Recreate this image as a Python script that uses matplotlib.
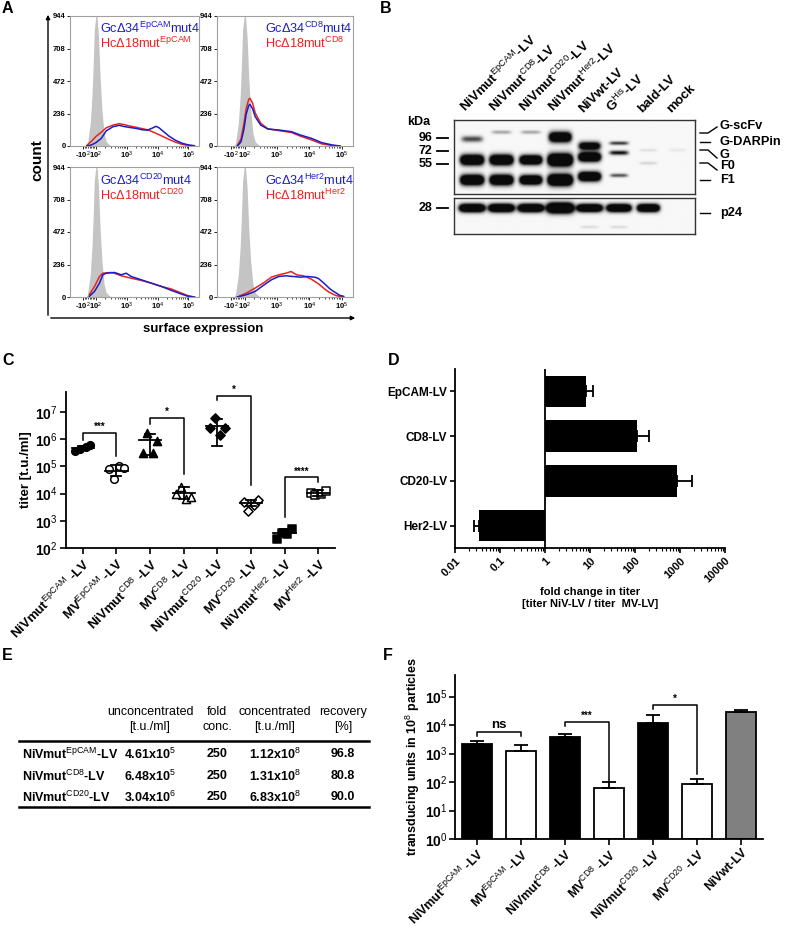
import matplotlib
matplotlib.use('Agg')
import matplotlib.pyplot as plt
import matplotlib.transforms as mtransforms
from matplotlib.lines import Line2D
from matplotlib.patches import FancyArrowPatch
from matplotlib.ticker import FixedLocator, NullLocator, NullFormatter, LogLocator
import numpy as np

plt.rcParams['font.family'] = ['Liberation Sans', 'DejaVu Sans']
plt.rcParams['mathtext.fontset'] = 'custom'
plt.rcParams['mathtext.rm'] = 'Liberation Sans'
plt.rcParams['mathtext.it'] = 'Liberation Sans:italic'
plt.rcParams['mathtext.bf'] = 'Liberation Sans:bold'

W, H = 787, 927

# ---------------- A: flow histograms (x = position on biexponential axis, decades)
gray_x = [1.67, 1.72, 1.81, 1.87, 1.91, 1.94, 1.99, 2.03, 2.08, 2.13, 2.19, 2.26, 2.33, 2.44, 2.56]
gray_count = [0, 19, 165, 382, 624, 842, 944, 944, 790, 500, 260, 92, 31, 7, 0]

epcam_x = [1.70, 1.85, 2.0, 2.17, 2.33, 2.55, 2.75, 2.9, 3.08, 3.3, 3.5, 3.67, 3.83, 3.95,
           4.05, 4.21, 4.37, 4.58, 4.8, 5.0, 5.2]
epcam_gc = [0, 8, 25, 56, 110, 140, 150, 142, 135, 128, 118, 115, 130, 143, 132, 102, 72, 42, 20, 8, 2]
epcam_hc = [5, 35, 70, 100, 132, 152, 162, 156, 146, 136, 126, 118, 104, 92, 82, 65, 48, 28, 12, 4, 1]

cd8_x = [1.78, 1.89, 1.98, 2.05, 2.13, 2.17, 2.25, 2.33, 2.5, 2.72, 3.06, 3.45, 3.72, 4.06, 4.39, 4.72, 4.95]
cd8_gc = [0, 30, 120, 230, 295, 302, 270, 213, 152, 123, 116, 104, 80, 56, 24, 7, 0]
cd8_hc = [5, 50, 160, 270, 340, 346, 310, 240, 165, 125, 112, 98, 72, 45, 15, 3, 0]

cd20_x = [1.78, 1.95, 2.11, 2.22, 2.33, 2.49, 2.6, 2.82, 2.98, 3.14, 3.47, 3.79, 4.12, 4.45, 4.77, 4.99, 5.2]
cd20_gc = [5, 41, 101, 161, 173, 176, 178, 161, 173, 149, 125, 101, 77, 48, 22, 5, 0]
cd20_hc = [17, 77, 149, 173, 175, 178, 172, 154, 145, 137, 120, 101, 77, 58, 29, 10, 0]

her2_x = [1.78, 2.06, 2.33, 2.61, 2.83, 3.06, 3.28, 3.44, 3.61, 3.72, 3.83, 3.94, 4.06, 4.17,
          4.28, 4.39, 4.5, 4.61, 4.72, 4.83, 4.94, 5.06]
her2_gc = [0, 17, 41, 89, 125, 149, 154, 150, 147, 144, 146, 149, 146, 144, 135, 113, 90, 65, 45, 29, 12, 5]
her2_hc = [0, 29, 65, 106, 144, 161, 173, 185, 161, 157, 154, 142, 130, 113, 96, 75, 53, 35, 22, 10, 5, 1]

hist_tick_pos = [1.58, 2, 3, 4, 5]
hist_tick_labels = ['-10$^{2}$', '10$^{2}$', '10$^{3}$', '10$^{4}$', '10$^{5}$']
count_ticks = [0, 236, 472, 708, 944]

# ---------------- B: western blot bands
blot_lanes = ['NiVmut$^{\\mathrm{EpCAM}}$-LV', 'NiVmut$^{\\mathrm{CD8}}$-LV', 'NiVmut$^{\\mathrm{CD20}}$-LV',
              'NiVmut$^{\\mathrm{Her2}}$-LV', 'NiVwt-LV', 'G$^{\\mathrm{His}}$-LV', 'bald-LV', 'mock']
band_lane = [1, 1, 1, 2, 2, 2, 3, 3, 3, 4, 4, 4, 5, 5, 5, 6, 6, 6, 7, 7, 8]
band_kda = [94, 60, 39, 109, 60, 39, 109, 60, 39, 98, 60, 39, 81, 64, 42, 86, 70, 43, 74, 56, 74]
band_strength = [0.75, 2.2, 2.2, 0.35, 2.2, 2.2, 0.35, 2.2, 2.2, 2.0, 2.5, 2.5, 1.6, 2.2, 2.2,
                 0.8, 1.0, 0.7, 0.1, 0.15, 0.07]
band_halfwidth = [0.36, 0.40, 0.40, 0.33, 0.40, 0.40, 0.33, 0.38, 0.38, 0.38, 0.42, 0.42, 0.37, 0.38, 0.38,
                  0.32, 0.32, 0.30, 0.30, 0.30, 0.30]
band_thick = [3.0, 5.0, 5.0, 1.8, 5.0, 5.0, 1.8, 4.5, 4.5, 5.0, 6.0, 5.5, 4.0, 4.5, 4.5,
              1.8, 2.2, 1.8, 1.5, 1.5, 1.5]
p24_lane = [1, 2, 3, 4, 5, 6, 7, 5, 6]
p24_kda = [28, 28, 28, 28, 28, 28, 28, 18.6, 18.6]
p24_strength = [2.2, 2.2, 2.2, 2.5, 2.2, 2.2, 2.2, 0.12, 0.12]
p24_halfwidth = [0.44, 0.44, 0.44, 0.46, 0.44, 0.42, 0.38, 0.3, 0.3]
p24_thick = [4.0, 4.0, 4.0, 5.0, 3.8, 3.8, 3.8, 1.5, 1.5]
marker_kda = [96, 72, 55]
p24_marker = [28]

# ---------------- C: titers
titer_labels = ['NiVmut$^{\\mathrm{EpCAM}}$ -LV', 'MV$^{\\mathrm{EpCAM}}$ -LV', 'NiVmut$^{\\mathrm{CD8}}$ -LV',
                'MV$^{\\mathrm{CD8}}$ -LV', 'NiVmut$^{\\mathrm{CD20}}$ -LV', 'MV$^{\\mathrm{CD20}}$ -LV',
                'NiVmut$^{\\mathrm{Her2}}$ -LV', 'MV$^{\\mathrm{Her2}}$ -LV']
titer_points = [[3.8e5, 4.3e5, 5.0e5, 6.0e5],
                [8.0e4, 3.5e4, 1.0e5, 8.6e4],
                [3.2e5, 1.7e6, 3.0e5, 9.0e5],
                [1.0e4, 1.8e4, 6.5e3, 7.5e3],
                [2.7e6, 6.2e6, 1.4e6, 2.6e6],
                [5.1e3, 2.3e3, 3.8e3, 6.0e3],
                [2.2e2, 3.6e2, 3.3e2, 5.1e2],
                [1.1e4, 8.6e3, 9.8e3, 1.2e4]]
titer_mean = [4.7e5, 6.7e4, 9.6e5, 1.05e4, 3.0e6, 4.5e3, 3.6e2, 1.05e4]
titer_sd_low = [3.9e5, 4.4e4, 2.75e5, 6.2e3, 5.9e5, 3.4e3, 2.7e2, 8.3e3]
titer_sd_high = [5.9e5, 1.1e5, 1.6e6, 1.74e4, 5.6e6, 5.9e3, 4.8e2, 1.32e4]
titer_markers = ['o', 'o', '^', '^', 'D', 'D', 's', 's']
titer_msize = [30, 30, 34, 34, 22, 22, 26, 26]
titer_filled = [True, False, True, False, True, False, True, False]
# bracket: left group, right group, top, left end, right end (log10), label
titer_brackets = [(0, 1, 6.23, 5.98, 5.40, '***'), (2, 3, 6.78, 6.57, 4.73, '*'),
                  (4, 5, 7.61, 7.45, 4.30, '*'), (6, 7, 4.60, 3.13, 4.42, '****')]

# ---------------- D: fold change
fold_labels = ['EpCAM-LV', 'CD8-LV', 'CD20-LV', 'Her2-LV']
fold_change = [8.0, 109, 845, 0.034]
fold_err_end = [11.8, 208, 1870, 0.026]

# ---------------- E: concentration table
table_header = [('unconcentrated', '[t.u./ml]'), ('fold', 'conc.'), ('concentrated', '[t.u./ml]'),
                ('recovery', '[%]')]
table_rows = ['NiVmut$^{\\mathrm{EpCAM}}$-LV', 'NiVmut$^{\\mathrm{CD8}}$-LV', 'NiVmut$^{\\mathrm{CD20}}$-LV']
table_unconc = ['4.61x10$^{5}$', '6.48x10$^{5}$', '3.04x10$^{6}$']
table_fold = ['250', '250', '250']
table_conc = ['1.12x10$^{8}$', '1.31x10$^{8}$', '6.83x10$^{8}$']
table_recovery = ['96.8', '80.8', '90.0']

# ---------------- F: transducing units per 10^8 particles
tu_labels = ['NiVmut$^{\\mathrm{EpCAM}}$ -LV', 'MV$^{\\mathrm{EpCAM}}$ -LV', 'NiVmut$^{\\mathrm{CD8}}$ -LV',
             'MV$^{\\mathrm{CD8}}$ -LV', 'NiVmut$^{\\mathrm{CD20}}$ -LV', 'MV$^{\\mathrm{CD20}}$ -LV', 'NiVwt-LV']
tu_values = [2200, 1240, 3800, 63, 12000, 83, 29000]
tu_err_top = [2700, 2040, 4900, 100, 22000, 123, 35000]
tu_colors = ['black', 'white', 'black', 'white', 'black', 'white', '#808080']
tu_brackets = [(0, 1, 3.77, 3.62, 3.62, 'ns'), (2, 3, 4.12, 3.96, 2.04, '***'),
               (4, 5, 4.72, 4.55, 2.27, '*')]


fig = plt.figure(figsize=(W / 100, H / 100), dpi=100)


def box(x0, y0, x1, y1):
    return [x0 / W, 1 - y1 / H, (x1 - x0) / W, (y1 - y0) / H]


def ftext(x, y, s, **kw):
    return fig.text(x / W, 1 - y / H, s, **kw)


def fline(xs, ys, lw=1.0):
    fig.add_artist(Line2D([x / W for x in xs], [1 - y / H for y in ys],
                          transform=fig.transFigure, color='black', lw=lw))


for lab, x, y in [('A', 2, 1), ('B', 380, 1), ('C', 2, 353), ('D', 388, 353), ('E', 2, 648), ('F', 383, 648)]:
    ftext(x, y, lab, fontsize=11.5, fontweight='bold', va='top', ha='left')

# ================= A
blue = '#1c1cc8'
red = '#e8231f'
hist_panels = [((70, 16, 199, 146), epcam_x, epcam_gc, epcam_hc, 'EpCAM', 0.233, 0.905, 0.79),
               ((217, 16, 353, 146), cd8_x, cd8_gc, cd8_hc, 'CD8', 0.353, 0.905, 0.79),
               ((70, 167, 199, 297), cd20_x, cd20_gc, cd20_hc, 'CD20', 0.233, 0.9, 0.785),
               ((217, 167, 353, 297), her2_x, her2_gc, her2_hc, 'Her2', 0.353, 0.9, 0.785)]
minor_hist = list(np.linspace(1.58, 2.0, 9)[1:-1]) + [n + np.log10(k) for n in (2, 3, 4) for k in range(2, 10)]
for (x0, y0, x1, y1), hx, gc, hc, tgt, tx, ty1, ty2 in hist_panels:
    ax = fig.add_axes(box(x0, y0, x1, y1))
    ax.fill_between(gray_x, gray_count, color='#c4c4c4', lw=0)
    ax.plot(hx, hc, color=red, lw=1.1)
    ax.plot(hx, gc, color=blue, lw=1.1)
    ax.set_xlim(1.15, 5.35)
    ax.set_ylim(0, 944)
    ax.set_yticks(count_ticks)
    ax.set_yticklabels([str(c) for c in count_ticks], fontsize=5.5, fontweight='bold')
    ax.set_xticks(hist_tick_pos)
    ax.set_xticklabels(hist_tick_labels, fontsize=5.5, fontweight='bold')
    ax.xaxis.set_minor_locator(FixedLocator(minor_hist))
    ax.tick_params(length=2, width=0.6, pad=1)
    ax.tick_params(which='minor', length=1.2, width=0.5)
    for sp in ax.spines.values():
        sp.set_color('#a0a0a0')
        sp.set_linewidth(0.8)
    ax.text(tx, ty1, 'Gc\u039434$^{\\mathrm{%s}}$mut4' % tgt, transform=ax.transAxes, color=blue,
            fontsize=9.2, ha='left', va='center')
    ax.text(tx, ty2, 'Hc\u039418mut$^{\\mathrm{%s}}$' % tgt, transform=ax.transAxes, color=red,
            fontsize=9.2, ha='left', va='center')

fig.add_artist(FancyArrowPatch((48 / W, 1 - 318 / H), (48 / W, 1 - 12 / H), transform=fig.transFigure,
                               arrowstyle='-|>', mutation_scale=6, lw=1, color='black'))
fig.add_artist(FancyArrowPatch((48 / W, 1 - 318 / H), (358 / W, 1 - 318 / H), transform=fig.transFigure,
                               arrowstyle='-|>', mutation_scale=6, lw=1, color='black'))
ftext(37, 160, 'count', rotation=90, fontsize=11, fontweight='bold', ha='center', va='center')
ftext(203, 329, 'surface expression', fontsize=9.5, fontweight='bold', ha='center', va='center')

# ================= B
BX0, BX1 = 0.39, 8.58


def draw_blot(rect, lanes, kdas, strengths, widths, thick, ylo, yhi):
    ax = fig.add_axes(box(*rect))
    px_dec = (rect[3] - rect[1]) / (yhi - ylo)
    xs = np.linspace(BX0, BX1, 500)
    ys = np.linspace(ylo, yhi, 300)
    gx, gy = np.meshgrid(xs, ys)
    dark = np.zeros_like(gx)
    for ln, kd, st, w, t in zip(lanes, kdas, strengths, widths, thick):
        dark += st * np.exp(-np.abs((gx - ln) / w) ** 5) * np.exp(-((gy - np.log10(kd)) * px_dec / t) ** 2)
    img = 0.97 - 0.93 * np.clip(dark, 0, 1)
    ax.imshow(img, cmap='gray', vmin=0, vmax=1, extent=(BX0, BX1, ylo, yhi), origin='lower',
              aspect='auto', interpolation='bilinear')
    ax.set_xlim(BX0, BX1)
    ax.set_ylim(ylo, yhi)
    ax.set_xticks([])
    ax.set_yticks([])
    for sp in ax.spines.values():
        sp.set_color('#333333')
        sp.set_linewidth(1.0)
    return ax


blot_top = draw_blot((454, 120, 695, 194), band_lane, band_kda, band_strength, band_halfwidth, band_thick,
                     1.461, 2.150)
blot_low = draw_blot((454, 198, 695, 234), p24_lane, p24_kda, p24_strength, p24_halfwidth, p24_thick,
                     1.205, 1.540)

tb = mtransforms.blended_transform_factory(blot_top.transData, blot_top.transAxes)
for i, lab in enumerate(blot_lanes):
    blot_top.text(i + 1 - 0.15, 1.07, lab, transform=tb, rotation=45, rotation_mode='anchor',
                  ha='left', va='bottom', fontsize=9.5, fontweight='bold')

for ax, kds in ((blot_top, marker_kda), (blot_low, p24_marker)):
    tr = mtransforms.blended_transform_factory(ax.transAxes, ax.transData)
    for kd in kds:
        ax.text(-0.09, np.log10(kd), str(kd), transform=tr, ha='right', va='center',
                fontsize=9, fontweight='bold')
        ax.plot([-0.07, -0.025], [np.log10(kd)] * 2, transform=tr, color='black', lw=1.3, clip_on=False)
ftext(407, 122, 'kDa', fontsize=9, fontweight='bold', ha='left', va='center')

for name, y in [('G-scFv', 126), ('G-DARPin', 142), ('G', 155), ('F0', 166), ('F1', 180), ('p24', 213)]:
    ftext(720, y, name, fontsize=9.2, fontweight='bold', ha='left', va='center')
fline([700, 708, 717], [133, 133, 127])
fline([700, 710], [142, 142])
fline([700, 708, 717], [150, 150, 158])
fline([700, 708, 717], [163, 163, 170])
fline([700, 710], [180, 180])
fline([700, 710], [213, 213])

# ================= C
ax_c = fig.add_axes(box(66, 392, 335, 548))
ax_c.set_yscale('log')
ax_c.set_ylim(1e2, 10 ** 7.74)
ax_c.set_xlim(-0.5, 7.5)
jitter = np.array([-0.22, -0.08, 0.08, 0.22])
for i, vals in enumerate(titer_points):
    ax_c.scatter(i + jitter, vals, marker=titer_markers[i], s=titer_msize[i],
                 facecolors='black' if titer_filled[i] else 'white', edgecolors='black',
                 linewidths=1.1, zorder=3)
    ax_c.plot([i - 0.33, i + 0.33], [titer_mean[i]] * 2, color='black', lw=1.3, zorder=4)
    ax_c.plot([i, i], [titer_sd_low[i], titer_sd_high[i]], color='black', lw=1.3, zorder=4)
    for v in (titer_sd_low[i], titer_sd_high[i]):
        ax_c.plot([i - 0.15, i + 0.15], [v, v], color='black', lw=1.3, zorder=4)
for a, b, top, le, re, lab in titer_brackets:
    ax_c.plot([a, a, b, b], [10 ** le, 10 ** top, 10 ** top, 10 ** re], color='black', lw=1.1)
    ax_c.text((a + b) / 2, 10 ** (top + 0.03), lab, ha='center', va='bottom', fontsize=7, fontweight='bold')
ax_c.yaxis.set_major_locator(FixedLocator([10.0 ** k for k in range(2, 8)]))
ax_c.yaxis.set_minor_locator(NullLocator())
ax_c.set_yticklabels(['10$^{%d}$' % k for k in range(2, 8)], fontsize=10, fontweight='bold')
ax_c.set_xticks(range(len(titer_labels)))
ax_c.set_xticklabels(titer_labels, rotation=45, ha='right', rotation_mode='anchor',
                     fontsize=9.5, fontweight='bold')
ax_c.set_ylabel('titer [t.u./ml]', fontsize=9.5, fontweight='bold', labelpad=2)
ax_c.spines['top'].set_visible(False)
ax_c.spines['right'].set_visible(False)
for sp in ('left', 'bottom'):
    ax_c.spines[sp].set_linewidth(1.3)
ax_c.tick_params(length=4, width=1.2, pad=2)

# ================= D
ax_d = fig.add_axes(box(455, 369, 725, 548))
ax_d.set_xscale('log')
ax_d.set_xlim(0.01, 10000)
ypos = np.arange(len(fold_labels))
fc = np.array(fold_change)
fe = np.array(fold_err_end)
left = np.minimum(fc, 1)
ax_d.barh(ypos, np.abs(fc - 1), left=left, height=0.7, color='black', zorder=2)
err_lo = np.where(fc < 1, fc - fe, 0)
err_hi = np.where(fc >= 1, fe - fc, 0)
ax_d.errorbar(fc, ypos, xerr=[err_lo, err_hi], fmt='none', ecolor='black', elinewidth=1.3,
              capsize=4.5, capthick=1.3, zorder=3)
ax_d.axvline(1, color='black', lw=1.3, zorder=4)
ax_d.set_ylim(3.5, -0.5)
ax_d.set_yticks(ypos)
ax_d.set_yticklabels(fold_labels, fontsize=8.5, fontweight='bold')
ax_d.xaxis.set_major_locator(FixedLocator([0.01, 0.1, 1, 10, 100, 1000, 10000]))
ax_d.xaxis.set_minor_locator(LogLocator(base=10, subs=np.arange(2, 10)))
ax_d.xaxis.set_minor_formatter(NullFormatter())
ax_d.set_xticklabels(['0.01', '0.1', '1', '10', '100', '1000', '10000'], rotation=45, ha='right',
                     rotation_mode='anchor', fontsize=8, fontweight='bold')
ax_d.set_xlabel('fold change in titer\n[titer NiV-LV / titer  MV-LV]', fontsize=8, fontweight='bold',
                labelpad=2)
ax_d.spines['top'].set_visible(False)
ax_d.spines['right'].set_visible(False)
for sp in ('left', 'bottom'):
    ax_d.spines[sp].set_linewidth(1.3)
ax_d.tick_params(length=3.5, width=1.2, pad=2)
ax_d.tick_params(which='minor', length=2, width=0.8)

# ================= E
col_x = [150, 217, 275, 343]
for cx, (h1, h2) in zip(col_x, table_header):
    ftext(cx, 712, h1, fontsize=9, ha='center', va='center')
    ftext(cx, 727, h2, fontsize=9, ha='center', va='center')
fline([19, 369], [741, 741], lw=1.8)
fline([19, 369], [807, 807], lw=1.8)
for r, y in enumerate([754, 776, 797]):
    ftext(22, y, table_rows[r], fontsize=9, fontweight='bold', ha='left', va='center')
    for cx, col in zip(col_x, (table_unconc, table_fold, table_conc, table_recovery)):
        ftext(cx, y, col[r], fontsize=9, fontweight='bold', ha='center', va='center')

# ================= F
ax_f = fig.add_axes(box(455, 675, 763, 839))
ax_f.set_yscale('log')
ax_f.set_ylim(1, 10 ** 5.76)
ax_f.set_xlim(-0.5, 6.5)
xf = np.arange(len(tu_labels))
tv = np.array(tu_values, dtype=float)
ax_f.bar(xf, tv - 1, bottom=1, width=0.68, color=tu_colors, edgecolor='black', linewidth=1.3, zorder=2)
ax_f.errorbar(xf, tv, yerr=[np.zeros_like(tv), np.array(tu_err_top) - tv], fmt='none', ecolor='black',
              elinewidth=1.3, capsize=5, capthick=1.3, zorder=3)
for a, b, top, le, re, lab in tu_brackets:
    ax_f.plot([a, a, b, b], [10 ** le, 10 ** top, 10 ** top, 10 ** re], color='black', lw=1.1)
    if lab == 'ns':
        ax_f.text((a + b) / 2, 10 ** (top + 0.04), lab, ha='center', va='bottom', fontsize=9.5,
                  fontweight='bold')
    else:
        ax_f.text((a + b) / 2, 10 ** (top + 0.03), lab, ha='center', va='bottom', fontsize=7,
                  fontweight='bold')
ax_f.yaxis.set_major_locator(FixedLocator([10.0 ** k for k in range(0, 6)]))
ax_f.yaxis.set_minor_locator(NullLocator())
ax_f.set_yticklabels(['10$^{%d}$' % k for k in range(0, 6)], fontsize=10, fontweight='bold')
ax_f.set_xticks(xf)
ax_f.set_xticklabels(tu_labels, rotation=45, ha='right', rotation_mode='anchor', fontsize=9,
                     fontweight='bold')
ax_f.set_ylabel('transducing units in 10$^{8}$ particles', fontsize=9, fontweight='bold', labelpad=2)
ax_f.spines['top'].set_visible(False)
ax_f.spines['right'].set_visible(False)
for sp in ('left', 'bottom'):
    ax_f.spines[sp].set_linewidth(1.3)
ax_f.tick_params(length=4, width=1.2, pad=1.5)

fig.savefig('out.png', dpi=100)
